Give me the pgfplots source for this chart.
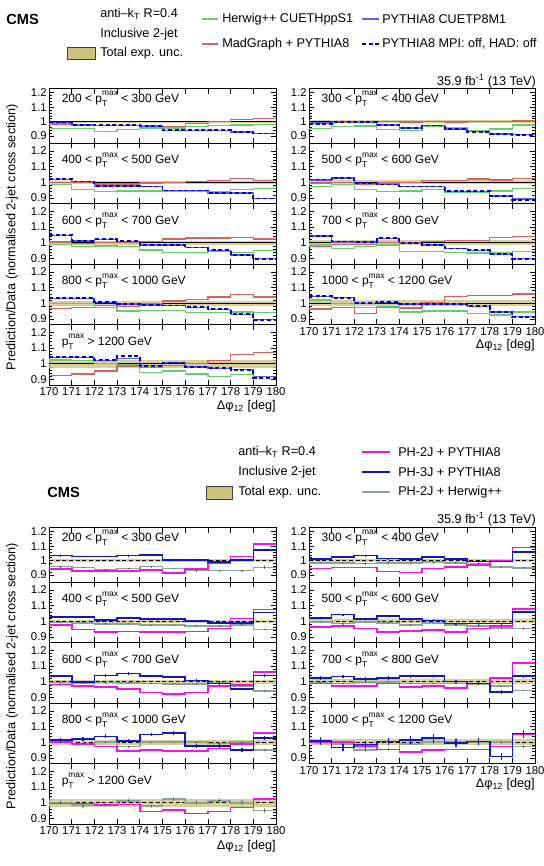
\documentclass[border=0pt]{standalone}
\usepackage{fontspec}
\setmainfont{Liberation Sans}
\usepackage{amsmath}
\usepackage{pgfplots}
\usepackage{pgfplotstable}
\pgfplotsset{compat=1.18}

\definecolor{hwg}{RGB}{105,205,105}
\definecolor{mgr}{RGB}{210,100,100}
\definecolor{pyb}{RGB}{95,95,235}
\definecolor{pyd}{RGB}{0,0,225}
\definecolor{band}{RGB}{205,195,125}
\definecolor{mag}{RGB}{240,20,230}
\definecolor{ph3}{RGB}{15,25,200}
\definecolor{gry}{RGB}{140,165,150}

% ---------------- top figure data: x  Herwig  MadGraph  PYTHIA8  MPIoff
\pgfplotstableread{
x g r b d
170 0.953 0.983 0.993 0.996
171 0.953 0.975 0.977 0.978
172 0.930 0.972 0.972 0.974
173 0.945 0.972 0.972 0.974
174 0.955 0.975 0.965 0.967
175 0.955 0.965 0.940 0.942
176 0.965 0.988 0.940 0.942
177 0.972 1.000 0.940 0.941
178 0.978 1.015 0.928 0.930
179 0.980 1.022 0.920 0.918
180 0.980 1.022 0.920 0.918
}\tTa
\pgfplotstableread{
x g r b d
170 0.985 1.000 1.017 1.020
171 0.955 0.998 1.004 1.005
172 0.940 0.990 0.977 0.979
173 0.945 0.990 0.977 0.979
174 0.945 0.995 0.972 0.973
175 0.940 1.000 0.947 0.948
176 0.940 1.005 0.947 0.948
177 0.940 1.010 0.932 0.933
178 0.955 1.025 0.932 0.930
179 0.960 1.010 0.898 0.897
180 0.960 1.010 0.898 0.897
}\tTb
\pgfplotstableread{
x g r b d
170 0.990 1.005 1.045 1.050
171 0.975 0.995 1.012 1.014
172 0.980 1.000 1.020 1.022
173 0.975 1.005 1.008 1.010
174 0.955 1.010 0.985 0.987
175 0.940 1.025 0.985 0.986
176 0.940 1.030 0.968 0.970
177 0.945 1.030 0.953 0.955
178 0.940 1.035 0.923 0.922
179 0.950 1.025 0.898 0.895
180 0.950 1.025 0.898 0.895
}\tTc
\pgfplotstableread{
x g r b d
170 1.000 0.965 1.030 1.033
171 1.000 0.975 1.030 1.033
172 0.975 0.985 1.007 1.008
173 0.950 0.980 0.996 0.997
174 0.955 0.995 0.990 0.991
175 0.955 1.015 0.985 0.986
176 0.940 1.025 0.975 0.976
177 0.940 1.040 0.960 0.961
178 0.945 1.055 0.930 0.930
179 0.940 1.040 0.895 0.893
180 0.940 1.040 0.895 0.893
}\tTd
\pgfplotstableread{
x g r b d
170 1.025 0.925 1.038 1.045
171 1.020 0.935 1.038 1.042
172 1.000 0.955 1.022 1.022
173 0.995 0.985 1.035 1.050
174 0.945 0.975 0.987 0.987
175 0.955 0.990 1.007 1.008
176 0.935 1.000 0.980 0.980
177 0.920 1.020 0.970 0.972
178 0.930 1.060 0.962 0.960
179 0.920 1.070 0.918 0.912
180 0.920 1.070 0.918 0.912
}\tTe
\pgfplotstableread{
x g r b d
170 0.951 0.985 0.990 0.985
171 0.967 0.995 1.000 1.000
172 0.971 1.000 0.995 0.997
173 0.944 1.000 0.977 0.978
174 0.940 0.998 0.955 0.957
175 0.967 1.000 0.973 0.973
176 0.956 0.998 0.950 0.950
177 0.940 1.000 0.930 0.928
178 0.949 1.000 0.915 0.912
179 0.978 1.005 0.910 0.908
180 0.978 1.005 0.910 0.908
}\tTRa
\pgfplotstableread{
x g r b d
170 0.975 0.995 1.015 1.018
171 0.985 1.000 1.028 1.030
172 0.955 0.990 0.994 0.996
173 0.940 0.995 0.985 0.986
174 0.945 1.000 0.972 0.973
175 0.955 1.010 0.972 0.973
176 0.935 1.010 0.943 0.944
177 0.935 1.020 0.943 0.942
178 0.945 1.015 0.913 0.912
179 0.960 1.025 0.893 0.890
180 0.960 1.025 0.893 0.890
}\tTRb
\pgfplotstableread{
x g r b d
170 0.985 0.980 1.043 1.045
171 0.965 0.990 1.006 1.008
172 0.975 0.990 1.006 1.007
173 0.985 1.000 1.028 1.030
174 0.945 1.000 0.996 0.997
175 0.945 1.010 0.985 0.986
176 0.940 1.015 0.963 0.964
177 0.935 1.015 0.953 0.954
178 0.935 1.035 0.927 0.928
179 0.945 1.040 0.898 0.895
180 0.945 1.040 0.898 0.895
}\tTRc
\pgfplotstableread{
x g r b d
170 1.020 0.963 1.045 1.048
171 1.000 0.975 1.035 1.036
172 0.975 0.935 1.000 1.000
173 0.980 0.975 1.005 1.007
174 0.945 0.970 0.995 0.996
175 0.950 1.005 0.995 0.996
176 0.950 1.045 0.995 0.996
177 0.935 1.050 0.980 0.980
178 0.925 1.050 0.945 0.945
179 0.945 1.060 0.915 0.912
180 0.945 1.060 0.915 0.912
}\tTRd

% ---------------- bottom figure data: x  PH-2J+P8  PH-3J+P8  PH-2J+H++  errors
\pgfplotstableread{
x m b g eb eg
170 0.943 1.035 0.959 0.004 0.004
171 0.927 1.030 0.954 0.004 0.004
172 0.930 1.030 0.936 0.004 0.004
173 0.927 1.035 0.947 0.004 0.004
174 0.935 1.040 0.959 0.004 0.004
175 0.915 1.005 0.947 0.004 0.004
176 0.943 1.005 0.931 0.004 0.004
177 0.985 0.990 0.931 0.004 0.004
178 1.030 1.005 0.931 0.005 0.005
179 1.115 1.073 0.954 0.006 0.015
180 1.115 1.073 0.954 0.006 0.015
}\tBa
\pgfplotstableread{
x m b g eb eg
170 0.978 1.028 0.993 0.004 0.004
171 0.948 1.028 0.990 0.004 0.004
172 0.930 1.010 0.983 0.004 0.004
173 0.935 1.020 0.983 0.004 0.004
174 0.930 1.013 0.975 0.004 0.004
175 0.930 1.013 0.975 0.004 0.004
176 0.935 1.000 0.970 0.004 0.004
177 0.953 0.990 0.970 0.004 0.004
178 1.017 0.990 0.978 0.005 0.004
179 1.075 1.056 0.948 0.006 0.006
180 1.075 1.056 0.948 0.006 0.006
}\tBb
\pgfplotstableread{
x m b g eb eg
170 0.984 1.036 0.995 0.008 0.005
171 0.973 1.000 0.990 0.008 0.005
172 0.966 1.040 0.995 0.008 0.005
173 0.955 1.052 0.992 0.008 0.005
174 0.932 1.036 0.990 0.008 0.005
175 0.923 1.030 0.987 0.008 0.005
176 0.932 1.007 0.987 0.008 0.005
177 0.975 0.990 0.992 0.008 0.005
178 0.980 0.955 0.973 0.008 0.005
179 1.064 1.040 0.943 0.008 0.005
180 1.064 1.040 0.943 0.008 0.005
}\tBc
\pgfplotstableread{
x m b g eb eg
170 1.000 1.015 1.000 0.012 0.006
171 0.990 1.022 0.993 0.012 0.006
172 0.973 1.038 1.000 0.012 0.006
173 0.945 1.009 0.973 0.012 0.006
174 0.950 1.050 1.000 0.012 0.006
175 0.945 1.060 1.000 0.012 0.006
176 0.945 0.978 1.000 0.012 0.006
177 0.960 0.978 0.993 0.012 0.006
178 0.990 0.950 1.000 0.012 0.006
179 1.060 1.027 0.950 0.012 0.006
180 1.060 1.027 0.950 0.012 0.006
}\tBd
\pgfplotstableread{
x m g eg
170 0.996 1.000 0.015
171 0.996 0.985 0.015
172 0.985 0.990 0.015
173 0.990 1.013 0.015
174 0.945 0.980 0.015
175 0.955 1.025 0.015
176 0.933 1.000 0.015
177 0.945 1.013 0.015
178 0.970 1.000 0.015
179 1.025 0.950 0.015
180 1.025 0.950 0.015
}\tBe
\pgfplotstableread{
x m b g eb eg
170 0.945 1.010 0.985 0.006 0.008
171 0.952 1.025 0.985 0.006 0.008
172 0.952 1.035 0.980 0.006 0.008
173 0.924 1.015 0.985 0.006 0.012
174 0.917 1.010 0.985 0.006 0.012
175 0.945 1.025 0.990 0.006 0.012
176 0.957 1.010 0.985 0.006 0.008
177 0.970 0.995 0.980 0.006 0.008
178 1.000 0.995 0.955 0.006 0.008
179 1.090 1.060 0.950 0.008 0.008
180 1.090 1.060 0.950 0.008 0.008
}\tBRa
\pgfplotstableread{
x m b g eb eg
170 0.963 1.022 0.996 0.006 0.005
171 0.970 1.043 0.985 0.006 0.005
172 0.953 1.013 0.996 0.006 0.005
173 0.930 1.032 0.990 0.006 0.005
174 0.937 1.013 0.978 0.006 0.005
175 0.946 1.006 0.990 0.006 0.005
176 0.930 0.985 0.978 0.006 0.005
177 0.953 0.985 0.970 0.006 0.005
178 0.970 0.985 0.957 0.006 0.005
179 1.077 1.060 0.953 0.006 0.005
180 1.077 1.060 0.953 0.006 0.005
}\tBRb
\pgfplotstableread{
x m b g eb eg
170 0.990 1.024 0.995 0.010 0.005
171 0.973 1.033 0.990 0.010 0.005
172 0.973 1.018 1.000 0.010 0.005
173 0.990 1.024 1.000 0.010 0.005
174 0.966 1.036 0.990 0.010 0.005
175 0.973 1.036 0.990 0.010 0.005
176 0.962 1.002 0.990 0.010 0.005
177 0.990 0.990 0.984 0.010 0.005
178 1.025 0.935 0.973 0.010 0.005
179 1.120 1.036 0.945 0.010 0.005
180 1.120 1.036 0.945 0.010 0.005
}\tBRc
\pgfplotstableread{
x m b g eb eg
170 1.000 1.010 1.010 0.025 0.010
171 1.000 0.967 0.990 0.025 0.010
172 0.978 0.985 0.950 0.025 0.010
173 0.955 1.005 0.955 0.025 0.010
174 0.940 1.015 0.990 0.025 0.010
175 0.950 1.027 1.000 0.025 0.010
176 0.955 0.995 1.004 0.025 0.010
177 0.955 1.005 1.000 0.025 0.010
178 0.973 0.910 1.000 0.025 0.010
179 1.050 1.055 0.973 0.025 0.010
180 1.050 1.055 0.973 0.025 0.010
}\tBRd

\pgfplotsset{
  panel/.style={
    scale only axis, anchor=north west,
    xmin=170, xmax=180, ymin=0.865, ymax=1.25,
    xtick={170,171,172,173,174,175,176,177,178,179,180},
    xticklabels={},
    ytick={0.9,1,1.1,1.2},
    yticklabels={0.9,1,1.1,1.2},
    minor y tick num=4,
    major tick length=4pt, minor tick length=2pt,
    every tick/.style={black, line width=0.5pt},
    axis line style={line width=0.6pt},
    tick label style={font=\fontsize{8.5}{9}\selectfont},
    yticklabel style={inner sep=1.5pt},
    xticklabel style={inner sep=2pt},
    /pgf/number format/assume math mode=true,
  },
  L/.style={width=170.25pt, at={(36.75pt,-#1)}},
  R/.style={width=169.5pt, at={(231.75pt,-#1)}},
  mid/.style={height=45.375pt},
  first/.style={height=40.875pt, ymin=0.852, ymax=1.23},
  lab/.style={xticklabels={170,171,172,173,174,175,176,177,178,179,180}},
  ebar/.style={only marks, mark=*, mark size=0.1pt, mark options={draw=none, fill=none},
    error bars/.cd, y dir=both, y explicit, error mark=none,
    error bar style={line width=0.9pt, draw=#1}},
}

\newcommand{\pt}{p\rlap{\raisebox{-2.9pt}{\fontsize{6.3}{6.3}\selectfont T}}\raisebox{4.9pt}{\fontsize{6.3}{6.3}\selectfont max}}
\newcommand{\TopPanel}[6]{%
\begin{axis}[panel,#1]
\addplot[fill=band, fill opacity=0.8, draw=none] coordinates {(170,#3) (180,#3) (180,#4) (170,#4)};
\addplot[black, line width=0.5pt] coordinates {(170,1) (180,1)};
\addplot[const plot, mgr, line width=1pt] table[x=x,y=r]{#2};
\addplot[const plot, hwg, line width=1pt] table[x=x,y=g]{#2};
\addplot[const plot, pyb, line width=1pt] table[x=x,y=b]{#2};
\addplot[const plot, pyd, line width=1.4pt, dash pattern=on 3pt off 2pt] table[x=x,y=d]{#2};
\node[anchor=west, inner sep=0pt, font=\fontsize{9}{10}\selectfont] at (axis cs:170.55,#5) {#6};
\end{axis}}

\newcommand{\BotPanel}[6]{%
\begin{axis}[panel,#1]
\addplot[fill=band, fill opacity=0.8, draw=none] coordinates {(170,#3) (180,#3) (180,#4) (170,#4)};
\addplot[black, line width=0.6pt, dash pattern=on 3pt off 2pt] coordinates {(170,1) (180,1)};
\addplot[const plot, gry, line width=1.2pt] table[x=x,y=g]{#2};
\addplot[ebar=gry] table[x expr=\thisrow{x}+0.5, y=g, y error=eg, skip coords between index={10}{11}]{#2};
\addplot[const plot, mag, line width=1.2pt] table[x=x,y=m]{#2};
\addplot[const plot, ph3, line width=1.2pt] table[x=x,y=b]{#2};
\addplot[ebar=ph3] table[x expr=\thisrow{x}+0.5, y=b, y error=eb, skip coords between index={10}{11}]{#2};
\node[anchor=west, inner sep=0pt, font=\fontsize{9}{10}\selectfont] at (axis cs:170.55,#5) {#6};
\end{axis}}

\begin{document}
\begin{tikzpicture}
\useasboundingbox (0,0) rectangle (407.25pt,-649.5pt);

% ================= TOP FIGURE =================
\TopPanel{L=66.375pt, first}{\tTa}{0.992}{1.008}{1.16}{200 < \pt{} < 300 GeV}
\TopPanel{L=107.25pt, mid}{\tTb}{0.990}{1.010}{1.14}{400 < \pt{} < 500 GeV}
\TopPanel{L=152.625pt, mid}{\tTc}{0.988}{1.012}{1.14}{600 < \pt{} < 700 GeV}
\TopPanel{L=198pt, mid}{\tTd}{0.985}{1.015}{1.14}{800 < \pt{} < 1000 GeV}
\TopPanel{L=243.375pt, mid, lab}{\tTe}{0.975}{1.025}{1.14}{\pt{} > 1200 GeV}
\TopPanel{R=66.375pt, first}{\tTRa}{0.990}{1.010}{1.16}{300 < \pt{} < 400 GeV}
\TopPanel{R=107.25pt, mid}{\tTRb}{0.988}{1.012}{1.14}{500 < \pt{} < 600 GeV}
\TopPanel{R=152.625pt, mid}{\tTRc}{0.985}{1.015}{1.14}{700 < \pt{} < 800 GeV}
\TopPanel{R=198pt, mid, lab}{\tTRd}{0.980}{1.020}{1.14}{1000 < \pt{} < 1200 GeV}

% ================= BOTTOM FIGURE =================
\BotPanel{L=395.625pt, first}{\tBa}{0.990}{1.010}{1.16}{200 < \pt{} < 300 GeV}
\BotPanel{L=436.5pt, mid}{\tBb}{0.990}{1.010}{1.14}{400 < \pt{} < 500 GeV}
\BotPanel{L=481.875pt, mid}{\tBc}{0.988}{1.012}{1.14}{600 < \pt{} < 700 GeV}
\BotPanel{L=527.25pt, mid}{\tBd}{0.985}{1.015}{1.14}{800 < \pt{} < 1000 GeV}
\begin{axis}[panel, L=572.625pt, mid, lab]
\addplot[fill=band, fill opacity=0.8, draw=none] coordinates {(170,0.975) (180,0.975) (180,1.025) (170,1.025)};
\addplot[black, line width=0.6pt, dash pattern=on 3pt off 2pt] coordinates {(170,1) (180,1)};
\addplot[const plot, gry, line width=1.2pt] table[x=x,y=g]{\tBe};
\addplot[ebar=gry] table[x expr=\thisrow{x}+0.5, y=g, y error=eg, skip coords between index={10}{11}]{\tBe};
\addplot[const plot, mag, line width=1.2pt] table[x=x,y=m]{\tBe};
\node[anchor=west, inner sep=0pt, font=\fontsize{9}{10}\selectfont] at (axis cs:170.55,1.14) {\pt{} > 1200 GeV};
\end{axis}
\BotPanel{R=395.625pt, first}{\tBRa}{0.990}{1.010}{1.16}{300 < \pt{} < 400 GeV}
\BotPanel{R=436.5pt, mid}{\tBRb}{0.988}{1.012}{1.14}{500 < \pt{} < 600 GeV}
\BotPanel{R=481.875pt, mid}{\tBRc}{0.985}{1.015}{1.14}{700 < \pt{} < 800 GeV}
\BotPanel{R=527.25pt, mid, lab}{\tBRd}{0.980}{1.020}{1.14}{1000 < \pt{} < 1200 GeV}

% ================= annotations (pixel units) =================
\begin{scope}[x=0.75pt, y=-0.75pt, every node/.style={inner sep=0pt, font=\fontsize{9.5}{10}\selectfont}]
% top header
\node[anchor=west, font=\bfseries\fontsize{11}{12}\selectfont] at (6,19) {CMS};
\node[anchor=west] at (100,14) {anti–k$_{\text{T}}$ R=0.4};
\node[anchor=west] at (100,34) {Inclusive 2-jet};
\filldraw[fill=band, draw=black!75, line width=0.5pt] (67,47) rectangle (95,59);
\node[anchor=west] at (100,53) {Total exp. unc.};
\draw[hwg, line width=1.1pt] (202,19) -- (218,19);
\node[anchor=west] at (222,19) {Herwig++ CUETHppS1};
\draw[mgr, line width=1.1pt] (202,44) -- (218,44);
\node[anchor=west] at (222,44) {MadGraph + PYTHIA8};
\draw[pyb, line width=1.1pt] (362,19) -- (379,19);
\node[anchor=west] at (382,19) {PYTHIA8 CUETP8M1};
\draw[pyd, line width=1.4pt, dash pattern=on 3pt off 2pt] (362,44) -- (379,44);
\node[anchor=west] at (382,44) {PYTHIA8 MPI: off, HAD: off};
\node[anchor=east] at (536,81) {35.9 fb$^{\text{-1}}$ (13 TeV)};
\node[rotate=90] at (12,237) {Prediction/Data (normalised 2-jet cross section)};
\node[anchor=east] at (276,406) {Δφ$_{\text{12}}$ [deg]};
\node[anchor=east] at (535,345) {Δφ$_{\text{12}}$ [deg]};
% bottom header
\node[anchor=west, font=\bfseries\fontsize{11}{12}\selectfont] at (47,492) {CMS};
\node[anchor=west] at (238,452) {anti–k$_{\text{T}}$ R=0.4};
\node[anchor=west] at (238,472) {Inclusive 2-jet};
\filldraw[fill=band, draw=black!75, line width=0.5pt] (206,486) rectangle (232,499);
\node[anchor=west] at (238,492) {Total exp. unc.};
\draw[mag, line width=1.2pt] (362,452) -- (390,452);
\node[anchor=west] at (398,452) {PH-2J + PYTHIA8};
\draw[ph3, line width=1.2pt] (362,472) -- (390,472);
\node[anchor=west] at (398,472) {PH-3J + PYTHIA8};
\draw[gry, line width=1.2pt] (362,492) -- (390,492);
\node[anchor=west] at (398,492) {PH-2J + Herwig++};
\node[anchor=east] at (536,519) {35.9 fb$^{\text{-1}}$ (13 TeV)};
\node[rotate=90] at (12,676) {Prediction/Data (normalised 2-jet cross section)};
\node[anchor=east] at (276,846) {Δφ$_{\text{12}}$ [deg]};
\node[anchor=east] at (535,784) {Δφ$_{\text{12}}$ [deg]};
\end{scope}
\end{tikzpicture}
\end{document}
